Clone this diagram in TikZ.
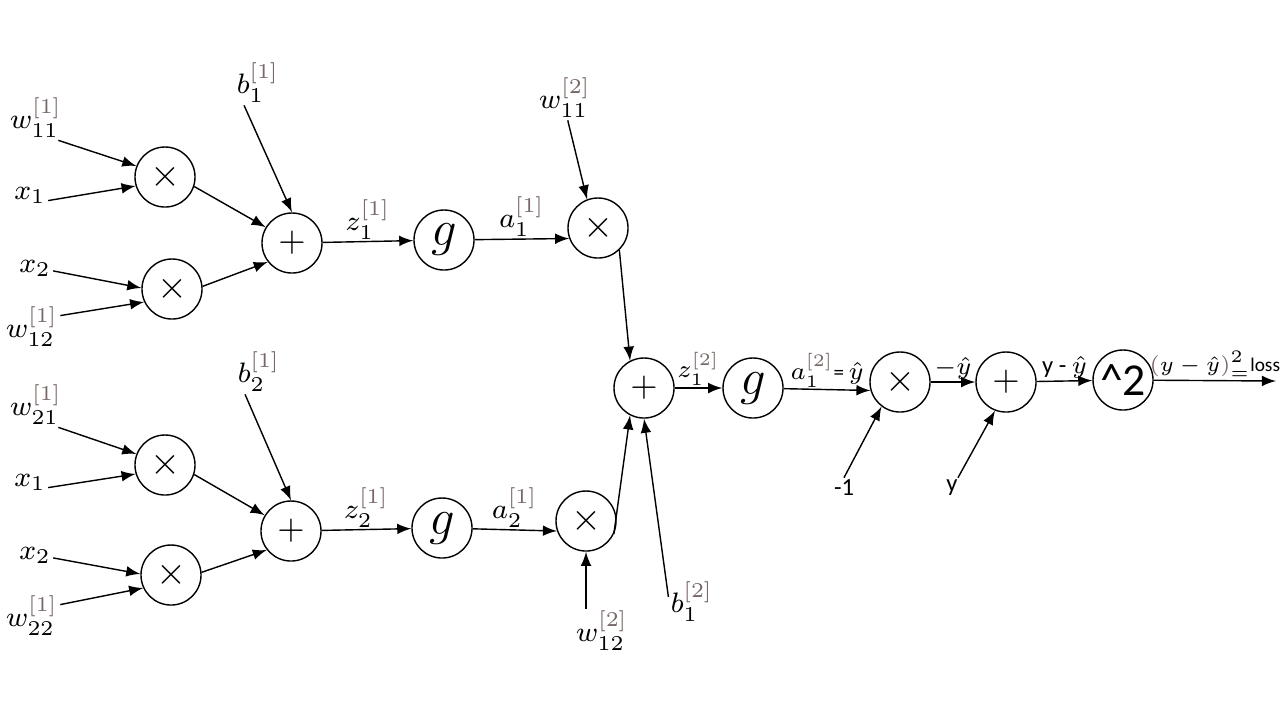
\documentclass[tikz,border=0pt]{standalone}
\usepackage{amsmath}
\usepackage{amssymb}
\usepackage{fontspec}
\newfontfamily\calib{Carlito}
\usetikzlibrary{positioning}
\definecolor{supgray}{RGB}{120,104,104}
\newcommand{\lyr}[1]{{\color{supgray}[#1]}}

\begin{document}
\begin{tikzpicture}[x=0.01cm, y=-0.01cm]
	\tikzstyle{main}=[circle, minimum size = 6mm, inner sep = 0pt, draw = black, line width = 0.4pt]
\tikzstyle{connect}=[-latex, line width = 0.4pt]
\tikzstyle{sym}=[font=\fontsize{11}{13}\selectfont]
\tikzstyle{actv}=[font=\fontsize{15}{18}\selectfont]
\tikzstyle{lbl}=[inner sep = 0.5pt, font=\fontsize{8.5}{10}\selectfont]
\tikzstyle{lbs}=[inner sep = 0.5pt, font=\fontsize{7.5}{9}\selectfont]
\tikzstyle{word}=[inner sep = 0.5pt, font=\calib\fontsize{7}{8}\selectfont]
  \useasboundingbox (0,0) rectangle (1280,720);
  % first hidden unit
  \node[main, sym] (m11) at (165,177) {$\times$};
  \node[main, sym] (m12) at (172,289) {$\times$};
  \node[main, sym, font=\fontsize{10}{12}\selectfont] (s1) at (292,243) {$+$};
  \node[main, actv] (g1) at (444,240) {$g$};
  \node[main, sym] (v1) at (598,228) {$\times$};
  % second hidden unit
  \node[main, sym] (m21) at (165,465) {$\times$};
  \node[main, sym] (m22) at (171,575) {$\times$};
  \node[main, sym, font=\fontsize{10}{12}\selectfont] (s2) at (291,531) {$+$};
  \node[main, actv] (g2) at (442,528) {$g$};
  \node[main, sym] (v2) at (586,521) {$\times$};
  % output and loss
  \node[main, sym, font=\fontsize{10}{12}\selectfont] (s3) at (644,388) {$+$};
  \node[main, actv] (g3) at (753,388) {$g$};
  \node[main, sym] (neg) at (900,382) {$\times$};
  \node[main, sym, font=\fontsize{10}{12}\selectfont] (diff) at (1006,382) {$+$};
  \node[main, font=\calib\fontsize{13}{15}\selectfont] (sq) at (1123,380) {\textasciicircum 2};
  \coordinate (loss) at (1276,381);
  % inputs
  \node[lbl] (w11) at (36,118) {$w_{11}^{\lyr{1}}$};
  \node[lbl] (x11) at (30,195) {$x_1$};
  \node[lbl] (x12) at (35,268) {$x_2$};
  \node[lbl] (w12) at (32,327) {$w_{12}^{\lyr{1}}$};
  \node[lbl] (b1) at (258,83) {$b_1^{\lyr{1}}$};
  \node[lbl] (w21) at (36,405) {$w_{21}^{\lyr{1}}$};
  \node[lbl] (x21) at (30,482) {$x_1$};
  \node[lbl] (x22) at (35,555) {$x_2$};
  \node[lbl] (w22) at (32,616) {$w_{22}^{\lyr{1}}$};
  \node[lbl] (b2) at (259,372) {$b_2^{\lyr{1}}$};
  \node[lbl] (u11) at (565,98) {$w_{11}^{\lyr{2}}$};
  \node[lbl] (u12) at (602,631) {$w_{12}^{\lyr{2}}$};
  \node[lbl] (c1) at (692,602) {$b_1^{\lyr{2}}$};
  \node[word] (mone) at (844,488) {-1};
  \node[word] (yv) at (952,488) {y};
  \path
        (w11.-45) edge [connect] (m11.159)
        (x11.-17) edge [connect] (m11.197)
        (x12.-9) edge [connect] (m12.178)
        (w12.22) edge [connect] (m12.205)
        (b1.-122) edge [connect] (s1.north)
        (m11.-18) edge [connect] (s1.149)
        (m12.5) edge [connect] (s1.218)
        (s1) edge [connect] node[lbl, above] {$z_1^{\lyr{1}}$} (g1)
        (g1) edge [connect] node[lbl, above] {$a_1^{\lyr{1}}$} (v1.200)
        (u11.-83) edge [connect] (v1.111)
        (w21.-45) edge [connect] (m21.159)
        (x21.-17) edge [connect] (m21.197)
        (x22.-9) edge [connect] (m22.178)
        (w22.22) edge [connect] (m22.205)
        (b2.-122) edge [connect] (s2.north)
        (m21.-18) edge [connect] (s2.149)
        (m22.5) edge [connect] (s2.218)
        (s2) edge [connect] node[lbl, above] {$z_2^{\lyr{1}}$} (g2)
        (g2) edge [connect] node[lbl, above] {$a_2^{\lyr{1}}$} (v2.199)
        (v2.south |- u12.north) edge [connect] (v2.south)
        (v1.-46) edge [connect] (s3.117)
        (v2.-25) edge [connect] (s3.243)
        (c1.168) edge [connect] (s3.south)
        (s3) edge [connect] node[lbs, above] {$z_1^{\lyr{2}}$} (g3)
        (g3) edge [connect] node[lbs, above] {$a_1^{\lyr{2}}${\calib\fontsize{6}{7}\selectfont=}\,$\hat{y}$} (neg.196)
        (mone.north) edge [connect] (neg.233)
        (neg) edge [connect] node[lbs, above] {$-\hat{y}$} (diff)
        (yv.60) edge [connect] (diff.249)
        (diff) edge [connect] node[lbs, above] {{\calib\fontsize{7}{8}\selectfont y - }$\hat{y}$} (sq)
        (sq) edge [connect] node[lbl, above, font=\fontsize{6.5}{8}\selectfont] {${\color{supgray}(}y-\hat{y}{\color{supgray})}^{2}_{=}${\calib\fontsize{5.5}{6}\selectfont loss}} (loss);

	\end{tikzpicture}
\end{document}
